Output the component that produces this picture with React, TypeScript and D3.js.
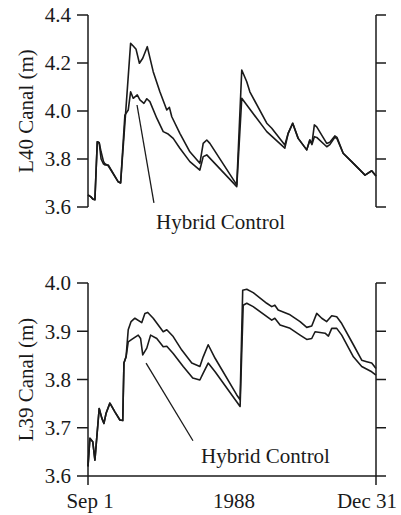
import React from "react";
import * as d3 from "d3";

// Day offsets from Sep 1, 1988 and canal stage (m)
const l40Base: [number, number][] = [
  [0, 3.65], [1.1, 3.643], [2.2, 3.632], [2.9, 3.63], [3.9, 3.872], [4.7, 3.868],
  [5.5, 3.8], [6.5, 3.78], [7.1, 3.775], [8.5, 3.775], [12.7, 3.705], [13.7, 3.7],
  [17.9, 4.282], [19.0, 4.271], [20.2, 4.257], [21.6, 4.199], [23.0, 4.22], [24.9, 4.268],
  [27.4, 4.164], [30.2, 4.08], [33.1, 4.004], [34.2, 4.015], [35.2, 3.976], [38.6, 3.907],
  [42.8, 3.83], [47.0, 3.782], [48.4, 3.865], [49.9, 3.879], [51.2, 3.865], [62.5, 3.692],
  [64.6, 4.171], [66.7, 4.122], [68.0, 4.08], [75.1, 3.949], [77.2, 3.928], [82.7, 3.858],
  [84.1, 3.907], [86.0, 3.949], [88.3, 3.886], [91.9, 3.838], [93.2, 3.879], [94.1, 3.865],
  [95.1, 3.942], [96.1, 3.934], [100.3, 3.865], [101.6, 3.87], [103.7, 3.896], [104.6, 3.89],
  [107.2, 3.824], [111.5, 3.782], [116.4, 3.733], [119.2, 3.751], [121, 3.729],
];

const l40Hybrid: [number, number][] = [
  [0, 3.65], [1.1, 3.643], [2.2, 3.632], [2.9, 3.63], [3.9, 3.872], [4.7, 3.868],
  [5.5, 3.83], [6.5, 3.79], [7.1, 3.78], [8.5, 3.772], [12.7, 3.705], [13.7, 3.7],
  [15.5, 3.983], [16.9, 4.004], [17.9, 4.08], [19.0, 4.053], [20.7, 4.067], [21.8, 4.046],
  [23.5, 4.032], [24.7, 4.051], [26.0, 4.039], [28.9, 3.97], [31.6, 3.914], [33.7, 3.904],
  [35.8, 3.886], [38.6, 3.845], [42.8, 3.789], [47.0, 3.754], [48.4, 3.81], [49.9, 3.817],
  [62.5, 3.685], [64.6, 4.053], [66.7, 4.025], [75.1, 3.914], [82.7, 3.845], [84.1, 3.907],
  [86.0, 3.949], [88.3, 3.886], [91.9, 3.838], [93.2, 3.879], [94.1, 3.86], [95.1, 3.893],
  [96.1, 3.89], [100.3, 3.851], [101.6, 3.86], [103.7, 3.89], [104.6, 3.885], [107.2, 3.824],
  [111.5, 3.782], [116.4, 3.733], [119.2, 3.751], [121, 3.729],
];

const l39Base: [number, number][] = [
  [0, 3.62], [0.8, 3.678], [2.0, 3.671], [2.9, 3.633], [4.7, 3.74], [5.8, 3.72],
  [6.7, 3.709], [7.6, 3.73], [9.2, 3.751], [11.3, 3.733], [13.4, 3.716], [14.6, 3.715],
  [15.1, 3.834], [16.0, 3.847], [16.9, 3.903], [18.1, 3.92], [19.7, 3.927], [22.6, 3.918],
  [23.9, 3.937], [25.1, 3.939], [27.4, 3.927], [31.6, 3.899], [33.1, 3.903], [35.8, 3.889],
  [39.4, 3.861], [43.6, 3.834], [47.0, 3.827], [48.4, 3.847], [50.5, 3.872], [53.4, 3.844],
  [62.5, 3.768], [63.9, 3.758], [65.0, 3.985], [66.7, 3.987], [69.4, 3.98], [75.1, 3.958],
  [77.2, 3.951], [78.5, 3.954], [79.9, 3.944], [84.9, 3.934], [89.1, 3.92], [91.9, 3.908],
  [94.0, 3.911], [96.1, 3.937], [98.2, 3.927], [100.3, 3.92], [102.4, 3.932], [104.5, 3.93],
  [106.6, 3.916], [111.5, 3.872], [115.0, 3.84], [117.1, 3.837], [119.2, 3.834], [121, 3.823],
];

const l39Hybrid: [number, number][] = [
  [0, 3.62], [0.8, 3.678], [2.0, 3.671], [2.9, 3.633], [4.7, 3.74], [5.8, 3.72],
  [6.7, 3.709], [7.6, 3.73], [9.2, 3.751], [11.3, 3.733], [13.4, 3.716], [14.6, 3.715],
  [15.1, 3.834], [16.0, 3.847], [16.9, 3.878], [18.4, 3.883], [21.1, 3.892], [22.1, 3.885],
  [23.0, 3.851], [24.7, 3.865], [26.3, 3.892], [28.9, 3.885], [31.6, 3.868], [33.1, 3.869],
  [35.8, 3.854], [40.0, 3.827], [44.0, 3.803], [47.0, 3.799], [48.4, 3.813], [50.5, 3.834],
  [53.4, 3.816], [63.9, 3.744], [65.2, 3.954], [66.7, 3.958], [69.4, 3.951], [77.2, 3.923],
  [78.5, 3.927], [80.7, 3.913], [84.9, 3.906], [89.1, 3.892], [91.9, 3.883], [94.0, 3.885],
  [95.4, 3.899], [99.6, 3.896], [101.0, 3.89], [102.4, 3.906], [104.5, 3.906], [106.6, 3.892],
  [111.5, 3.847], [115.0, 3.827], [119.2, 3.816], [121, 3.809],
];

const l40Ticks = [3.6, 3.8, 4.0, 4.2, 4.4];
const l39Ticks = [3.6, 3.7, 3.8, 3.9, 4.0];
const xLabels = ["Sep 1", "1988", "Dec 31"];

// Leader lines to the hybrid-control curves: [day, value] endpoints
const l40Leader: [number, number][] = [[20.6, 4.025], [27.7, 3.617]];
const l39Leader: [number, number][] = [[24.4, 3.834], [44.1, 3.673]];

const FONT = "Liberation Serif, DejaVu Serif, serif";
const INK = "#1a1a1a";
const textStyle = { fontFamily: FONT, fontSize: 21 };

const X0 = 88;
const X1 = 376;
const x = d3.scaleLinear().domain([0, 121]).range([X0, X1]);

type PanelProps = {
  top: number;
  bottom: number;
  domain: [number, number];
  ticks: number[];
  title: string;
  base: [number, number][];
  hybrid: [number, number][];
  leader: [number, number][];
  labelDay: number;
  labelY: number;
  fmt: (v: number) => string;
  xAxis: boolean;
};

function Panel(p: PanelProps) {
  const y = d3.scaleLinear().domain(p.domain).range([p.bottom, p.top]);
  const line = d3
    .line<[number, number]>()
    .x((d) => x(d[0]))
    .y((d) => y(d[1]));
  const midY = (p.top + p.bottom) / 2;
  return (
    <g>
      {/* left axis */}
      <line x1={X0} x2={X0} y1={p.top} y2={p.xAxis ? p.bottom + 9 : p.bottom} stroke={INK} strokeWidth={1.5} />
      {p.ticks.map((t) => (
        <g key={"l" + t}>
          <line x1={X0 - 11} x2={X0} y1={y(t)} y2={y(t)} stroke={INK} strokeWidth={1.5} />
          <text x={X0 - 17} y={y(t)} dy="0.35em" textAnchor="end" style={textStyle} fill={INK}>
            {p.fmt(t)}
          </text>
        </g>
      ))}
      {/* right axis */}
      <line x1={X1} x2={X1} y1={p.top} y2={p.xAxis ? p.bottom + 9 : p.bottom} stroke={INK} strokeWidth={1.5} />
      {p.ticks.map((t) => (
        <line key={"r" + t} x1={X1} x2={X1 + 10} y1={y(t)} y2={y(t)} stroke={INK} strokeWidth={1.5} />
      ))}
      {p.xAxis && (
        <line x1={X0} x2={X1} y1={p.bottom} y2={p.bottom} stroke={INK} strokeWidth={1.5} />
      )}
      <text
        transform={`translate(33,${midY}) rotate(-90)`}
        textAnchor="middle"
        style={textStyle}
        fill={INK}
      >
        {p.title}
      </text>
      <path d={line(p.base) || ""} fill="none" stroke={INK} strokeWidth={1.6} strokeLinejoin="round" />
      <path d={line(p.hybrid) || ""} fill="none" stroke={INK} strokeWidth={1.6} strokeLinejoin="round" />
      <path d={line(p.leader) || ""} fill="none" stroke={INK} strokeWidth={1.3} />
      <text x={x(p.labelDay)} y={p.labelY} style={textStyle} fill={INK}>
        Hybrid Control
      </text>
    </g>
  );
}

export default function App() {
  return (
    <svg
      width={401}
      height={515}
      style={{ position: "absolute", left: 0, top: 0, background: "#fff" }}
    >
      <Panel
        top={15}
        bottom={207}
        domain={[3.6, 4.4]}
        ticks={l40Ticks}
        title="L40 Canal (m)"
        base={l40Base}
        hybrid={l40Hybrid}
        leader={l40Leader}
        labelDay={28.6}
        labelY={229}
        fmt={d3.format(".1f")}
        xAxis={false}
      />
      <Panel
        top={283}
        bottom={476}
        domain={[3.6, 4.0]}
        ticks={l39Ticks}
        title="L39 Canal (m)"
        base={l39Base}
        hybrid={l39Hybrid}
        leader={l39Leader}
        labelDay={47.5}
        labelY={463}
        fmt={d3.format(".1f")}
        xAxis={true}
      />
      <text x={x(0) + 2} y={508} textAnchor="middle" style={textStyle} fill={INK}>
        {xLabels[0]}
      </text>
      <text x={x(60.5) + 2} y={508} textAnchor="middle" style={textStyle} fill={INK}>
        {xLabels[1]}
      </text>
      <text x={397} y={508} textAnchor="end" style={textStyle} fill={INK}>
        {xLabels[2]}
      </text>
    </svg>
  );
}
